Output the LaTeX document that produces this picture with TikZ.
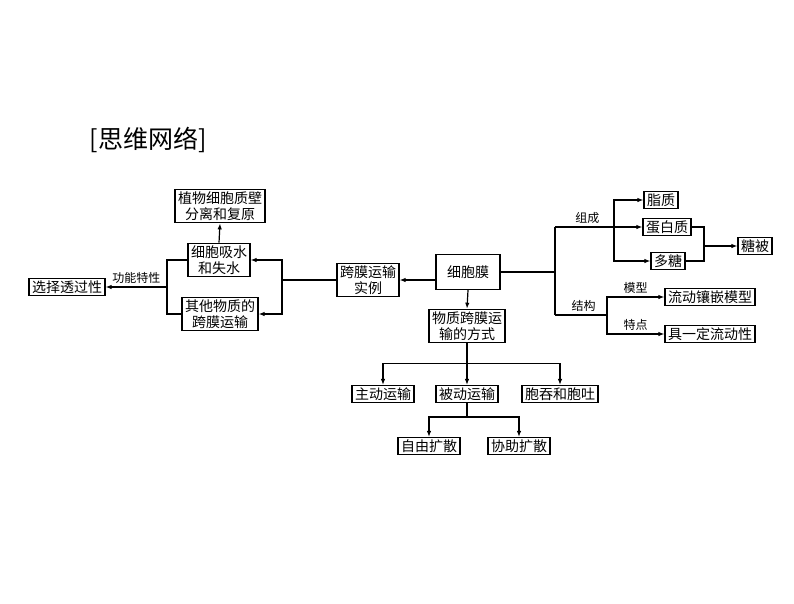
\documentclass[tikz,border=0pt]{standalone}
\usepackage{fontspec}
\usetikzlibrary{arrows.meta}
\newfontfamily\cjk{Noto Sans CJK SC}

\begin{document}
\begin{tikzpicture}[x=1pt,y=-1pt,
    box/.style={draw,line width=1.2pt,inner xsep=3pt,inner ysep=2pt,align=center,
        font=\cjk\fontsize{14}{16.5}\selectfont},
    lbl/.style={font=\cjk\fontsize{12}{14}\selectfont,inner sep=1pt},
    ln/.style={line width=1.2pt},
    arr/.style={line width=1.2pt,-{Latex[length=6pt,width=4.5pt]}}]
    \useasboundingbox (0,0) rectangle (794,603);
    % title
    \node[font=\cjk\fontsize{25}{28}\selectfont] (title) at (148,140) {[思维网络]};
    % centre and left side
    \node[box,minimum width=64pt,minimum height=35pt] (xbm) at (468,272) {细胞膜};
    \node[box] (kmsl) at (368,280) {跨膜运输\\实例};
    \node[box] (xsws) at (219,260) {细胞吸水\\和失水};
    \node[box] (qtwz) at (220,314) {其他物质的\\跨膜运输};
    \node[box] (zbfl) at (220,206) {植物细胞质壁\\分离和复原};
    \node[box] (xztgx) at (67,287) {选择透过性};
    % transport modes
    \node[box] (wzfs) at (467,326) {物质跨膜运\\输的方式};
    \node[box] (zdys) at (383,394) {主动运输};
    \node[box] (bdys) at (467,394) {被动运输};
    \node[box] (btbt) at (560,394) {胞吞和胞吐};
    \node[box] (zyks) at (429,446) {自由扩散};
    \node[box] (xzks) at (519,446) {协助扩散};
    % right side
    \node[box] (zz) at (661,200) {脂质};
    \node[box] (dbz) at (667,227) {蛋白质};
    \node[box] (dt) at (668,261) {多糖};
    \node[box] (tb) at (755,246) {糖被};
    \node[box] (lxms) at (710,297) {流动镶嵌模型};
    \node[box] (jyd) at (710,334) {具一定流动性};
    % junctions
    \coordinate (jR) at (282,280);
    \coordinate (jL) at (167,287);
    \coordinate (jC) at (555,272);
    \coordinate (jZc) at (614,227);
    \coordinate (jJg) at (607,315);
    \coordinate (jTb) at (704,246);
    % connectors
    \draw[arr] (xbm.west |- kmsl.east) -- (kmsl.east);
    \draw[ln] (kmsl.west) -- (jR);
    \draw[arr] (jR) |- (xsws.east);
    \draw[arr] (jR) |- (qtwz.east);
    \draw[arr] (xsws.north) -- (zbfl.south);
    \draw[ln] (xsws.west) -| (jL);
    \draw[ln] (qtwz.west) -| (jL);
    \draw[arr] (jL) -- node[lbl,above=2pt] {功能特性} (xztgx.east);
    \draw[arr] (xbm.south) -- (wzfs.north);
    \draw[arr] (wzfs.south) -- ++(0,20) -| (zdys.north);
    \draw[arr] (wzfs.south) -- (bdys.north);
    \draw[arr] (wzfs.south) -- ++(0,20) -| (btbt.north);
    \draw[arr] (bdys.south) -- ++(0,14) -| (zyks.north);
    \draw[arr] (bdys.south) -- ++(0,14) -| (xzks.north);
    \draw[ln] (xbm.east) -- (jC);
    \draw[ln] (jC |- jZc) -- (jC |- jJg);
    \draw[ln] (jC |- jZc) -- node[lbl,above=2pt,pos=0.55] {组成} (jZc);
    \draw[arr] (jZc) -- (dbz.west);
    \draw[arr] (jZc) |- (zz.west);
    \draw[arr] (jZc) |- (dt.west);
    \draw[ln] (dbz.east) -| (jTb);
    \draw[ln] (dt.east) -| (jTb);
    \draw[arr] (jTb) -- (tb.west);
    \draw[ln] (jC |- jJg) -- node[lbl,above=2pt,pos=0.55] {结构} (jJg);
    \draw[arr] (jJg) |- node[lbl,above=2pt,pos=0.75] {模型} (lxms.west);
    \draw[arr] (jJg) |- node[lbl,above=2pt,pos=0.75] {特点} (jyd.west);
\end{tikzpicture}
\end{document}
